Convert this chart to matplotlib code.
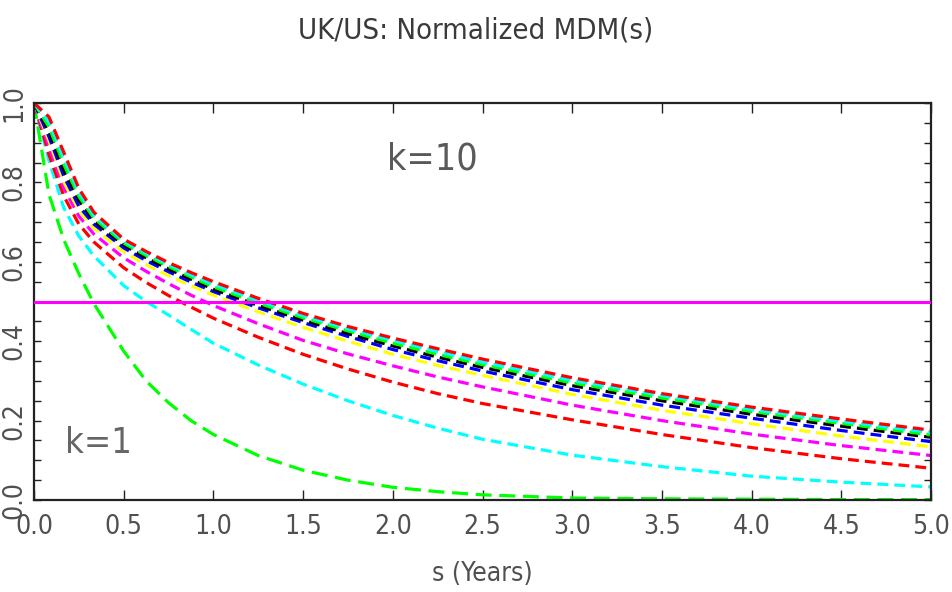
import matplotlib
matplotlib.use("Agg")
import matplotlib.pyplot as plt
from matplotlib.ticker import MultipleLocator

plt.rcParams['font.family'] = ['DejaVu Sans']
plt.rcParams['font.stretch'] = 'condensed'

# time lag s in years
s_years = [0.0, 1/12, 2/12, 0.25, 1/3, 0.5, 0.625, 0.75, 0.875, 1.0, 1.25, 1.5,
           1.75, 2.0, 2.25, 2.5, 3.0, 3.5, 4.0, 4.5, 5.0]

# normalized MDM(s) for k = 1 ... 10
mdm_k1 = [1.0, 0.77, 0.655, 0.57, 0.495, 0.375, 0.30, 0.245, 0.20, 0.165, 0.112, 0.075,
          0.05, 0.032, 0.021, 0.013, 0.005, 0.003, 0.002, 0.001, 0.001]
mdm_k2 = [1.0, 0.855, 0.735, 0.665, 0.615, 0.54, 0.50, 0.466, 0.43, 0.395, 0.34, 0.292,
          0.25, 0.213, 0.181, 0.153, 0.113, 0.084, 0.060, 0.045, 0.033]
mdm_k3 = [1.0, 0.87, 0.765, 0.695, 0.65, 0.585, 0.548, 0.515, 0.486, 0.458, 0.41, 0.367,
          0.33, 0.297, 0.268, 0.243, 0.202, 0.165, 0.132, 0.104, 0.080]
mdm_k4 = [1.0, 0.89, 0.785, 0.715, 0.67, 0.61, 0.576, 0.545, 0.516, 0.49, 0.444, 0.402,
          0.368, 0.338, 0.31, 0.285, 0.239, 0.200, 0.166, 0.137, 0.112]
mdm_k5 = [1.0, 0.905, 0.80, 0.73, 0.685, 0.625, 0.593, 0.565, 0.54, 0.516, 0.474, 0.435,
          0.40, 0.367, 0.339, 0.314, 0.266, 0.226, 0.192, 0.161, 0.134]
mdm_k6 = [1.0, 0.915, 0.815, 0.74, 0.695, 0.635, 0.603, 0.575, 0.549, 0.525, 0.484, 0.447,
          0.412, 0.379, 0.351, 0.325, 0.278, 0.239, 0.206, 0.175, 0.147]
mdm_k7 = [1.0, 0.93, 0.83, 0.755, 0.703, 0.642, 0.61, 0.582, 0.556, 0.531, 0.49, 0.453,
          0.419, 0.388, 0.36, 0.334, 0.288, 0.250, 0.216, 0.186, 0.158]
mdm_k8 = [1.0, 0.94, 0.845, 0.765, 0.71, 0.647, 0.616, 0.588, 0.562, 0.537, 0.496, 0.459,
          0.426, 0.395, 0.367, 0.341, 0.295, 0.257, 0.223, 0.193, 0.164]
mdm_k9 = [1.0, 0.952, 0.86, 0.775, 0.717, 0.652, 0.621, 0.593, 0.567, 0.543, 0.502, 0.464,
          0.431, 0.402, 0.374, 0.347, 0.301, 0.263, 0.228, 0.198, 0.170]
mdm_k10 = [1.0, 0.965, 0.875, 0.785, 0.725, 0.657, 0.626, 0.598, 0.573, 0.55, 0.508, 0.47,
           0.437, 0.408, 0.381, 0.355, 0.308, 0.268, 0.234, 0.204, 0.176]

curves = [mdm_k1, mdm_k2, mdm_k3, mdm_k4, mdm_k5, mdm_k6, mdm_k7, mdm_k8, mdm_k9, mdm_k10]
colors = ['#00ff00', '#00ffff', '#ff0000', '#ff00ff', '#ffff00',
          '#0000ff', '#000000', '#00ff00', '#00ffff', '#ff0000']
half_level = 0.5

fig = plt.figure(figsize=(9.52, 5.92), dpi=100)
ax = fig.add_axes([34/952, 92/592, 897/952, 397/592])

for i, vals in enumerate(curves):
    dash = (5.0, 2.4) if i == 0 else (3.4, 1.9)
    ax.plot(s_years, vals, color=colors[i], lw=2.3, dashes=dash,
            dash_capstyle='butt', solid_capstyle='butt')

# 50% level
ax.axhline(half_level, color='#ff00ff', lw=2.2, zorder=5)

ax.set_xlim(0, 5)
ax.set_ylim(0, 1)
ax.xaxis.set_major_locator(MultipleLocator(0.5))
ax.yaxis.set_major_locator(MultipleLocator(0.2))
ax.yaxis.set_minor_locator(MultipleLocator(0.05))
ax.tick_params(axis='both', which='both', direction='in', top=True, right=True,
               width=1.0, color='#222222', labelcolor='#505050')
ax.tick_params(axis='x', which='major', length=7, pad=10, labelsize=19)
ax.tick_params(axis='y', which='both', length=5)
ax.tick_params(axis='y', which='major', pad=5, labelsize=19)
xlabels = ax.set_xticklabels(['%.1f' % v for v in ax.get_xticks()])
xlabels[0].set_ha('left')
xlabels[-1].set_ha('right')
ax.set_yticklabels(['%.1f' % v for v in ax.get_yticks()], rotation=90, va='center')
for sp in ax.spines.values():
    sp.set_linewidth(1.6)
    sp.set_color('#222222')

ax.set_xlabel('s (Years)', fontsize=19, color='#505050', labelpad=15)
fig.suptitle('UK/US: Normalized MDM(s)', fontsize=21, color='#3a3a3a', y=0.972)

fig.text(0.454, 0.73, 'k=10', ha='center', va='center', fontsize=27, color='#5a5a5a')
fig.text(0.103, 0.252, 'k=1', ha='center', va='center', fontsize=26, color='#666666')

fig.savefig('out.png', dpi=100)
